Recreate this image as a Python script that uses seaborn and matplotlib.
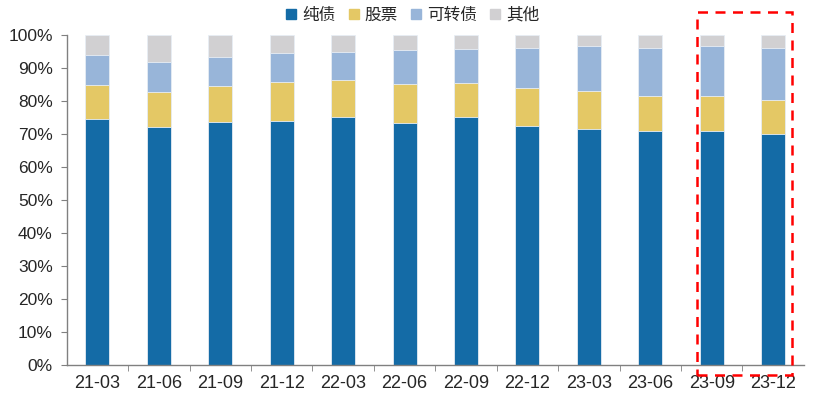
import numpy as np
import pandas as pd
import matplotlib.pyplot as plt
import seaborn as sns
from matplotlib.patches import Rectangle
from matplotlib.lines import Line2D
from matplotlib.ticker import PercentFormatter

quarters = ["21-03", "21-06", "21-09", "21-12", "22-03", "22-06",
            "22-09", "22-12", "23-03", "23-06", "23-09", "23-12"]
pure_bond = [74.5, 72.2, 73.6, 74.0, 75.2, 73.3, 75.2, 72.5, 71.4, 70.8, 70.9, 70.0]
stock = [10.3, 10.5, 10.9, 11.8, 11.1, 11.9, 10.3, 11.3, 11.6, 10.8, 10.7, 10.2]
convertible = [9.0, 9.2, 8.9, 8.9, 8.6, 10.2, 10.3, 12.4, 13.6, 14.5, 15.2, 15.9]

series_names = ["纯债", "股票", "可转债", "其他"]
colors = ["#146BA6", "#E4C865", "#98B5D9", "#D1D0D2"]

sns.set_style("white")
plt.rcParams["font.family"] = ["Liberation Sans", "Noto Sans CJK SC", "DejaVu Sans"]

df = pd.DataFrame({"quarter": quarters, "纯债": pure_bond, "股票": stock, "可转债": convertible})
df["其他"] = 100 - df[["纯债", "股票", "可转债"]].sum(axis=1)
cum = df[series_names].cumsum(axis=1) / 100.0
cum["quarter"] = df["quarter"]

fig = plt.figure(figsize=(8.17, 3.97), dpi=100)
ax = fig.add_axes([0.0816, 0.0806, 0.9024, 0.8312])

# draw cumulative totals from the top layer down so each layer shows through
for name, color in reversed(list(zip(series_names, colors))):
    sns.barplot(data=cum, x="quarter", y=name, color=color, width=0.39,
                saturation=1, edgecolor="#E8EEF5", linewidth=0.6, ax=ax)

ax.set_xlim(-0.5, len(quarters) - 0.5)
ax.set_ylim(0, 1)
ax.set_yticks(np.arange(0, 1.01, 0.1))
ax.yaxis.set_major_formatter(PercentFormatter(1.0, decimals=0))
ax.set_xlabel("")
ax.set_ylabel("")

for side in ["top", "right"]:
    ax.spines[side].set_visible(False)
for side in ["left", "bottom"]:
    ax.spines[side].set_color("#808080")
    ax.spines[side].set_linewidth(1.0)

ax.tick_params(axis="y", length=4, color="#808080", labelsize=12.5, pad=6, left=True)
ax.tick_params(axis="x", length=0, labelsize=13, pad=7)
# minor ticks between categories on the x axis
ax.set_xticks(np.arange(0.5, len(quarters) - 0.5, 1), minor=True)
ax.tick_params(axis="x", which="minor", length=4, color="#808080", bottom=True)

handles = [Line2D([0], [0], marker="s", linestyle="", markersize=7.5,
                  markerfacecolor=c, markeredgecolor=c) for c in colors]
fig.legend(handles, series_names, loc="center", bbox_to_anchor=(0.504, 0.962),
           ncol=4, frameon=False, handlelength=0.8, handletextpad=0.25,
           columnspacing=0.7, prop={"family": ["Noto Sans CJK SC"], "size": 12})

# red dashed highlight box around the last two quarters
ax.add_patch(Rectangle((9.76, -0.03), 1.55, 1.1, fill=False, edgecolor="#FF0000",
                       linestyle=(0, (4, 3)), linewidth=1.8, clip_on=False, zorder=5))

fig.savefig("out.png", dpi=100)
plt.close(fig)
